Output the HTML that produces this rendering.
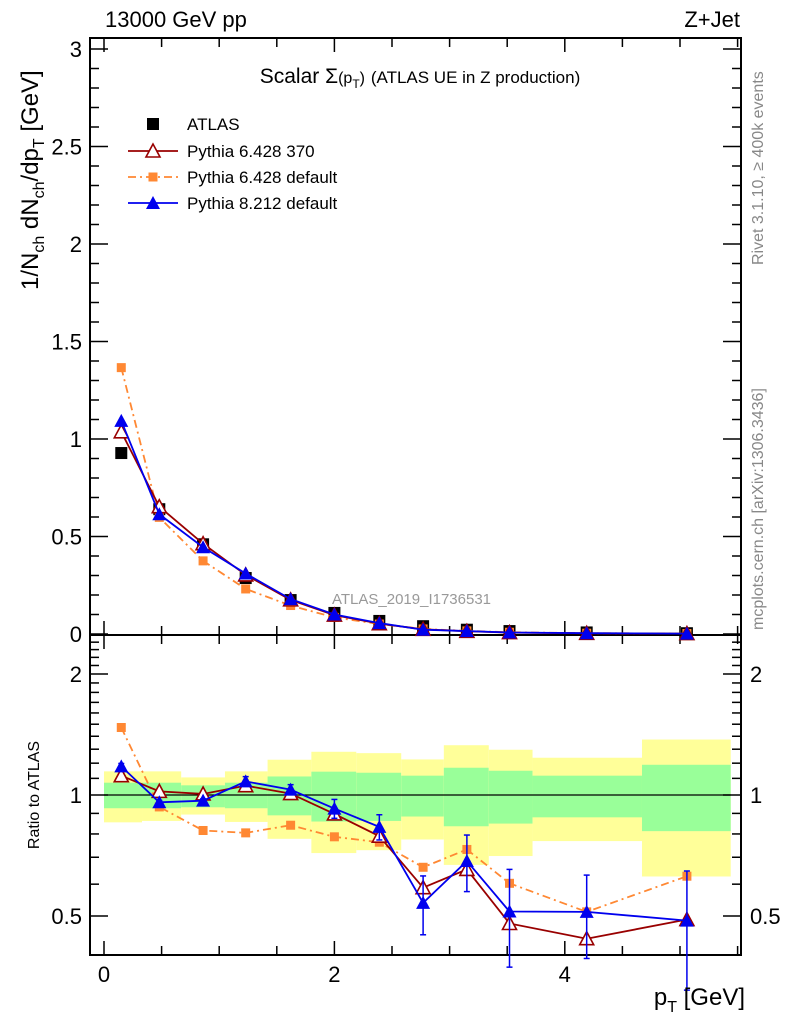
<!DOCTYPE html>
<html><head><meta charset="utf-8"><style>
body{margin:0;background:#fff;}
svg{display:block;font-family:"Liberation Sans",sans-serif;}
</style></head><body>
<svg id="chart" width="786" height="1024" viewBox="0 0 786 1024"></svg>
<script>
const pt=[0.15,0.48,0.86,1.23,1.62,2.0,2.39,2.77,3.15,3.52,4.19,5.06];
const edges=[0,0.33,0.67,1.05,1.42,1.8,2.19,2.58,2.95,3.34,3.72,4.67,5.44];
const atlas=[0.928,0.64,0.46,0.287,0.174,0.108,0.067,0.04,0.022,0.015,0.008,0.004];
const p6370=[1.037,0.653,0.463,0.303,0.175,0.097,0.053,0.024,0.014,0.0072,0.0035,0.002];
const p6def=[1.366,0.598,0.375,0.231,0.146,0.085,0.051,0.026,0.016,0.009,0.0041,0.0025];
const p8=[1.093,0.614,0.445,0.310,0.179,0.100,0.056,0.022,0.015,0.0077,0.0041,0.0019];
const r6370=[1.117,1.021,1.006,1.055,1.008,0.897,0.790,0.588,0.653,0.479,0.439,0.490];
const r6def=[1.472,0.934,0.816,0.805,0.841,0.787,0.763,0.661,0.732,0.603,0.512,0.628];
const r8=[1.178,0.959,0.968,1.081,1.031,0.925,0.833,0.539,0.685,0.513,0.512,0.487];
const r8err=[0.02,0.01,0.01,0.03,0.03,0.05,0.06,0.09,0.11,0.14,0.12,0.16];
const yelTop=[1.145,1.145,1.106,1.145,1.224,1.281,1.271,1.226,1.33,1.296,1.238,1.374];
const yelBot=[0.855,0.862,0.894,0.857,0.778,0.717,0.729,0.775,0.670,0.705,0.768,0.627];
const grnTop=[1.073,1.073,1.057,1.073,1.112,1.143,1.136,1.117,1.169,1.149,1.117,1.189];
const grnBot=[0.927,0.927,0.932,0.927,0.890,0.859,0.862,0.884,0.836,0.849,0.880,0.813];
const mainTicks=["0","0.5","1","1.5","2","2.5","3"];
const ratioTicks=["0.5","1","2"];
const xTicks=["0","2","4"];

const L=90,R=741,T=38,M=635,B=955;
const X=v=>104+v*115.2;
const Y=v=>634-v*195;
const YR=v=>795-Math.log2(v)*121;
const svg=document.getElementById('chart');
const NS='http://www.w3.org/2000/svg';
function mk(tag,at,parent){const e=document.createElementNS(NS,tag);for(const k in at)e.setAttribute(k,at[k]);(parent||svg).appendChild(e);return e;}
function txt(s,at){const e=mk('text',at);e.textContent=s;return e;}

const bands=mk('g',{});


for(let i=0;i<pt.length;i++){
  const x0=X(edges[i]),x1=X(edges[i+1]);
  const y=mk('rect',{x:x0,y:YR(yelTop[i]),width:x1-x0,height:YR(yelBot[i])-YR(yelTop[i]),fill:'#ffff99'},bands);
  
  
  const g=mk('rect',{x:x0,y:YR(grnTop[i]),width:x1-x0,height:YR(grnBot[i])-YR(grnTop[i]),fill:'#99ff99'},bands);
  
  
}
const one=mk('line',{x1:X(edges[0]),x2:X(edges[12]),y1:YR(1),y2:YR(1),stroke:'#000','stroke-width':1.3});



for(const [y0,y1,nm] of [[T,M,'main-plot-frame'],[M,B,'ratio-plot-frame']]){
  const f=mk('rect',{x:L,y:y0,width:R-L,height:y1-y0,fill:'none',stroke:'#000','stroke-width':2});
  
  
}
for(let v=0;v<=5.5;v+=0.5){
  const maj=Math.abs(v-Math.round(v))<1e-6&&Math.round(v)%2===0;
  const len=maj?14:9;
  for(const [yb,yt] of [[M,T],[B,M]]){
    mk('line',{x1:X(v),x2:X(v),y1:yb,y2:yb-len,stroke:'#000','stroke-width':1.5});
    mk('line',{x1:X(v),x2:X(v),y1:yt,y2:yt+len,stroke:'#000','stroke-width':1.5});
  }
}
xTicks.forEach((s,i)=>{const t=txt(s,{x:X(i*2),y:982,'font-size':22,'text-anchor':'middle'});
  });
for(let v=0;v<=3.05;v+=0.1){
  const maj=Math.abs(v*2-Math.round(v*2))<1e-6;const len=maj?18:9;
  mk('line',{x1:L,x2:L+len,y1:Y(v),y2:Y(v),stroke:'#000','stroke-width':1.5});
  mk('line',{x1:R,x2:R-len,y1:Y(v),y2:Y(v),stroke:'#000','stroke-width':1.5});
}
mainTicks.forEach((s,i)=>{const t=txt(s,{x:82,y:Y(i*0.5)+8,'font-size':22,'text-anchor':'end'});
  });
[0.4,0.5,0.6,0.7,0.8,0.9,1,1.1,1.2,1.3,1.4,1.5,1.6,1.7,1.8,1.9,2,2.1,2.2,2.3,2.4].forEach(v=>{
  const maj=(v===0.5||v===1||v===2);const len=maj?18:9;
  mk('line',{x1:L,x2:L+len,y1:YR(v),y2:YR(v),stroke:'#000','stroke-width':1.5});
  mk('line',{x1:R,x2:R-len,y1:YR(v),y2:YR(v),stroke:'#000','stroke-width':1.5});
});
ratioTicks.forEach(s=>{const v=parseFloat(s);
  const t=txt(s,{x:82,y:YR(v)+8,'font-size':22,'text-anchor':'end'});
  
  const t2=txt(s,{x:750,y:YR(v)+8,'font-size':22});
  });

function marker(kind,x,y,g){
  if(kind==='sq')mk('rect',{x:x-6,y:y-6,width:12,height:12,fill:'#000'},g);
  else if(kind==='osq')mk('rect',{x:x-4.5,y:y-4.5,width:9,height:9,fill:'#ff8833'},g);
  else if(kind==='otri')mk('polygon',{points:`${x},${y-7} ${x-7},${y+6} ${x+7},${y+6}`,fill:'#fff',stroke:'#990000','stroke-width':1.6},g);
  else mk('polygon',{points:`${x},${y-7} ${x-7},${y+6} ${x+7},${y+6}`,fill:'#0000ee'},g);
}
function series(name,xs,ys,yf,color,dash,kind,errs){
  const g=mk('g',{});
  
  
  if(color){mk('polyline',{points:xs.map((x,i)=>X(x)+','+yf(ys[i])).join(' '),fill:'none',stroke:color,'stroke-width':1.8,'stroke-dasharray':dash||'none'},g);}
  if(errs)xs.forEach((x,i)=>{const a=yf(Math.max(ys[i]-errs[i],0.3)),b=yf(ys[i]+errs[i]);
    mk('line',{x1:X(x),x2:X(x),y1:a,y2:b,stroke:color,'stroke-width':1.5},g);
    mk('line',{x1:X(x)-3,x2:X(x)+3,y1:a,y2:a,stroke:color,'stroke-width':1.5},g);
    mk('line',{x1:X(x)-3,x2:X(x)+3,y1:b,y2:b,stroke:color,'stroke-width':1.5},g);});
  xs.forEach((x,i)=>marker(kind,X(x),yf(ys[i]),g));
}
series('atlas-data-main',pt,atlas,Y,null,null,'sq');
series('pythia6-default-main',pt,p6def,Y,'#ff8833','8,4,2,4','osq');
series('pythia6-370-main',pt,p6370,Y,'#990000',null,'otri');
series('pythia8-main',pt,p8,Y,'#0000ee',null,'tri');
series('pythia6-default-ratio',pt,r6def,YR,'#ff8833','8,4,2,4','osq');
series('pythia6-370-ratio',pt,r6370,YR,'#990000',null,'otri');
series('pythia8-ratio',pt,r8,YR,'#0000ee',null,'tri',r8err);

function label(s,at,name){const t=txt(s,at);return t;}
label('13000 GeV pp',{x:105,y:27,'font-size':22},'energy-label');
label('Z+Jet',{x:740,y:27,'font-size':22,'text-anchor':'end'},'process-label');
const ti=label('',{x:420,y:83,'font-size':21,'text-anchor':'middle'},'plot-title');
ti.innerHTML='Scalar Σ<tspan font-size="16">(p</tspan><tspan font-size="12" dy="5">T</tspan><tspan font-size="16" dy="-5">)</tspan> <tspan font-size="17">(ATLAS UE in Z production)</tspan>';
label('ATLAS_2019_I1736531',{x:332,y:604,'font-size':15,fill:'#999'},'analysis-id');
const yt=label('',{x:0,y:0,'font-size':24,transform:'translate(38,290) rotate(-90)'},'y-axis-title');
yt.innerHTML='1/N<tspan font-size="16" dy="6">ch</tspan><tspan dy="-6"> dN</tspan><tspan font-size="16" dy="6">ch</tspan><tspan dy="-6">/dp</tspan><tspan font-size="16" dy="6">T</tspan><tspan dy="-6"> [GeV]</tspan>';
label('Ratio to ATLAS',{x:0,y:0,'font-size':16,'text-anchor':'middle',transform:'translate(39,795) rotate(-90)'},'ratio-axis-title');
const xt=label('',{x:745,y:1005,'font-size':24,'text-anchor':'end'},'x-axis-title');
xt.innerHTML='p<tspan font-size="16" dy="7">T</tspan><tspan dy="-7"> [GeV]</tspan>';
label('Rivet 3.1.10, ≥ 400k events',{x:0,y:0,'font-size':16,fill:'#888',transform:'translate(763,265) rotate(-90)'},'rivet-label');
label('mcplots.cern.ch [arXiv:1306.3436]',{x:0,y:0,'font-size':16,fill:'#888',transform:'translate(763,630) rotate(-90)'},'mcplots-label');

const lg=mk('g',{});


const legItems=[['ATLAS',null,null,'sq',124],['Pythia 6.428 370','#990000',null,'otri',151],['Pythia 6.428 default','#ff8833','8,4,2,4','osq',177],['Pythia 8.212 default','#0000ee',null,'tri',203]];
legItems.forEach(([s,c,d,k,y])=>{
  const g=mk('g',{},lg);
  
  
  if(c)mk('line',{x1:128,x2:178,y1:y,y2:y,stroke:c,'stroke-width':1.8,'stroke-dasharray':d||'none'},g);
  marker(k,153,y,g);
  const t=mk('text',{x:187,y:y+6,'font-size':17},g);t.textContent=s;
});
</script>
</body></html>
